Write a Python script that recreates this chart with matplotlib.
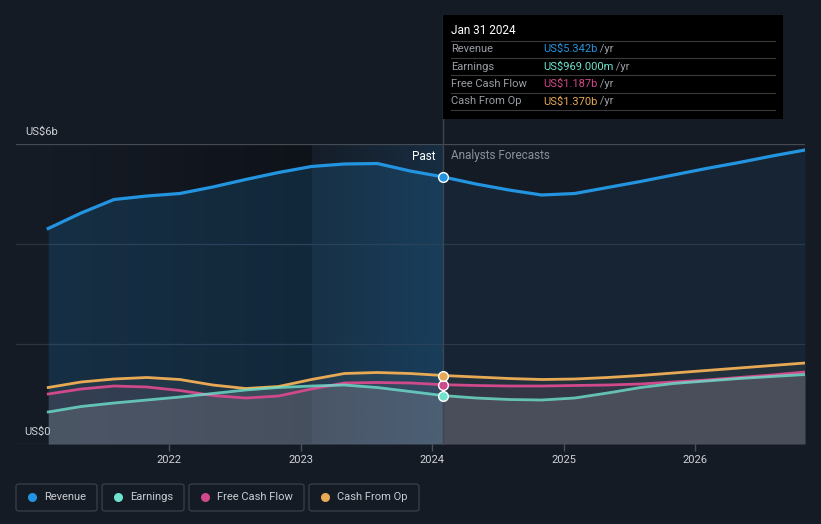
"""
Revenue / earnings / cash flow history and analyst forecasts, dark card style.
"""

import matplotlib
matplotlib.use("Agg")
import numpy as np
import matplotlib.pyplot as plt
from matplotlib.patches import FancyBboxPatch, Rectangle
from matplotlib.lines import Line2D
from matplotlib.text import Annotation

plt.rcParams["font.family"] = ["Roboto", "DejaVu Sans"]

# ------------------------------------------------------------------
# quarterly grid, decimal years (Jan 2021 .. Oct 2026)
DATES = [2021.083, 2021.333, 2021.583, 2021.833,
         2022.083, 2022.333, 2022.583, 2022.833,
         2023.083, 2023.333, 2023.583, 2023.833,
         2024.083, 2024.333, 2024.583, 2024.833,
         2025.083, 2025.333, 2025.583, 2025.833,
         2026.083, 2026.333, 2026.583, 2026.833]

# US$ billions
REVENUE  = [4.31, 4.62, 4.89, 4.96, 5.01, 5.14, 5.29, 5.43,
            5.55, 5.60, 5.61, 5.46, 5.342, 5.20, 5.08, 4.98,
            5.01, 5.13, 5.25, 5.38, 5.51, 5.63, 5.76, 5.88]
EARNINGS = [0.64, 0.75, 0.82, 0.88, 0.94, 1.01, 1.08, 1.13,
            1.16, 1.18, 1.13, 1.05, 0.969, 0.92, 0.89, 0.88,
            0.92, 1.02, 1.13, 1.21, 1.26, 1.31, 1.35, 1.39]
FCF      = [1.00, 1.10, 1.16, 1.14, 1.07, 0.97, 0.92, 0.96,
            1.10, 1.22, 1.23, 1.22, 1.187, 1.17, 1.16, 1.16,
            1.17, 1.18, 1.20, 1.24, 1.28, 1.33, 1.38, 1.44]
CFO      = [1.13, 1.24, 1.30, 1.33, 1.29, 1.18, 1.11, 1.15,
            1.29, 1.41, 1.43, 1.41, 1.37, 1.34, 1.31, 1.29,
            1.30, 1.33, 1.37, 1.42, 1.47, 1.52, 1.57, 1.62]

NOW         = 2024.083
HILITE_FROM = 2023.083
YEARS       = [2022, 2023, 2024, 2025, 2026]
NAMES       = ["Revenue", "Earnings", "Free Cash Flow", "Cash From Op"]
TIP_VALUES  = ["US$5.342b", "US$969.000m", "US$1.187b", "US$1.370b"]

BG    = "#151b25"
C_REV = "#2394df"
C_EAR = "#6fe3cf"
C_FCF = "#d0498a"
C_CFO = "#e8a955"
COLORS = [C_REV, C_EAR, C_FCF, C_CFO]

W, H = 821, 524

# ------------------------------------------------------------------
def fx(px):
    return px / W

def fy(py):
    return 1 - py / H


fig = plt.figure(figsize=(W / 100, H / 100), dpi=100, facecolor=BG)
ax = fig.add_axes([fx(16), fy(444), fx(805) - fx(16), fy(144) - fy(444)])
ax.set_facecolor(BG)
ax.set_xlim(2020.838, 2026.833)
ax.set_ylim(0, 6)

d = np.array(DATES)
past = d <= NOW + 1e-6
fut = d >= NOW - 1e-6

# darkening of the past area, fading in from the left
grad = np.zeros((1, 256, 4))
grad[0, :, 3] = np.linspace(0.0, 0.32, 256)
ax.imshow(grad, extent=[DATES[0], HILITE_FROM, 0, 6], aspect="auto",
          zorder=0, interpolation="bilinear")
# highlight of the last year, stronger towards "now"
hl = np.zeros((1, 256, 4))
hl[0, :, :3] = matplotlib.colors.to_rgb(C_REV)
hl[0, :, 3] = np.linspace(0.02, 0.15, 256)
ax.imshow(hl, extent=[HILITE_FROM, NOW, 0, 6], aspect="auto",
          zorder=0, interpolation="bilinear")

for yv in [2, 4]:
    ax.axhline(yv, color="#2c3340", lw=0.9, zorder=1)
ax.axhline(6, color="#454b55", lw=0.9, zorder=1)
ax.axhline(0, color="#3b414c", lw=0.9, zorder=1)

# area fills
rev = np.array(REVENUE)
ax.fill_between(d[past], rev[past], 0, color=C_REV, alpha=0.17, lw=0, zorder=2)
ax.fill_between(d[fut], rev[fut], 0, color=C_REV, alpha=0.08, lw=0, zorder=2)
ax.fill_between(d, CFO, 0, color="#9aa59a", alpha=0.10, lw=0, zorder=2)
ax.fill_between(d, FCF, 0, color="#c07090", alpha=0.10, lw=0, zorder=2)
ax.fill_between(d, EARNINGS, 0, color="#c8c8c8", alpha=0.16, lw=0, zorder=2)

ax.plot(d, REVENUE, color=C_REV, lw=2.3, zorder=4, solid_joinstyle="round")
ax.plot(d, CFO, color=C_CFO, lw=2.0, zorder=4, solid_joinstyle="round")
ax.plot(d, FCF, color=C_FCF, lw=2.0, zorder=4, solid_joinstyle="round")
ax.plot(d, EARNINGS, color=C_EAR, lw=2.0, alpha=0.8, zorder=4,
        solid_joinstyle="round")

i_now = DATES.index(NOW)
for series, c in zip([REVENUE, EARNINGS, FCF, CFO], COLORS):
    ax.plot([NOW], [series[i_now]], "o", ms=7, mfc=c, mec="white",
            mew=1.0, zorder=6)

# vertical "today" line running up to the tooltip
ax.plot([NOW, NOW], [0, (444 - 15) / 50], color="#3d4552", lw=1.0,
        zorder=3, clip_on=False)

ax.text(NOW - 0.06, 5.76, "Past", color="white", fontsize=8.5,
        ha="right", va="center", zorder=7)
ax.text(NOW + 0.06, 5.76, "Analysts Forecasts", color="#8b9099",
        fontsize=8.5, ha="left", va="center", zorder=7)

ax.set_xticks(YEARS)
ax.set_xticklabels([str(y) for y in YEARS])
ax.set_yticks([])
ax.tick_params(axis="x", colors="#4a505b", length=5, width=1,
               labelcolor="#d0d3d8", labelsize=8, pad=3)
for s in ax.spines.values():
    s.set_visible(False)

fig.text(fx(25), fy(132), "US$6b", color="#d0d3d8", fontsize=8,
         ha="left", va="center")
fig.text(fx(24), fy(432), "US$0", color="#d0d3d8", fontsize=8,
         ha="left", va="center", zorder=8)

# ------------------------------------------------------------------
# tooltip box
fig.add_artist(Rectangle((fx(443), fy(119)), fx(783) - fx(443),
                         fy(15) - fy(119), transform=fig.transFigure,
                         facecolor="black", edgecolor="none", zorder=9))
fig.text(fx(451), fy(31), "Jan 31 2024", color="white", fontsize=8.5,
         ha="left", va="center", zorder=10)
for py in [41, 58, 75, 93, 110]:
    fig.add_artist(Line2D([fx(451), fx(775)], [fy(py), fy(py)],
                          transform=fig.transFigure, color="#3a3a3a",
                          lw=0.8, zorder=10))
for k, (name, val, c) in enumerate(zip(NAMES, TIP_VALUES, COLORS)):
    py = 49 + k * 17.5
    fig.text(fx(451), fy(py), name, color="#9a9ea5", fontsize=8,
             ha="left", va="center", zorder=10)
    t = fig.text(fx(543), fy(py), val, color=c, fontsize=8,
                 ha="left", va="center", zorder=10)
    yr = Annotation(" /yr", xy=(1, 0.5), xycoords=t, color="#9a9ea5",
                    fontsize=8, ha="left", va="center",
                    annotation_clip=False)
    yr.set_zorder(10)
    fig.add_artist(yr)

# legend buttons
boxes = [(16, 97), (102, 184), (189, 304), (309, 419)]
for (x0, x1), name, c in zip(boxes, NAMES, COLORS):
    fig.add_artist(FancyBboxPatch((fx(x0), fy(511)), fx(x1) - fx(x0),
                                  fy(484) - fy(511),
                                  boxstyle="round,pad=0,rounding_size=0.004",
                                  transform=fig.transFigure,
                                  facecolor=BG, edgecolor="#3a404b", lw=0.9))
    fig.add_artist(Line2D([fx(x0 + 16)], [fy(497)], marker="o", ms=6.5,
                          mfc=c, mec="none", transform=fig.transFigure))
    fig.text(fx(x0 + 28), fy(497), name, color="#c9ccd1", fontsize=8,
             ha="left", va="center")

fig.savefig("out.png", dpi=100, facecolor=BG)
